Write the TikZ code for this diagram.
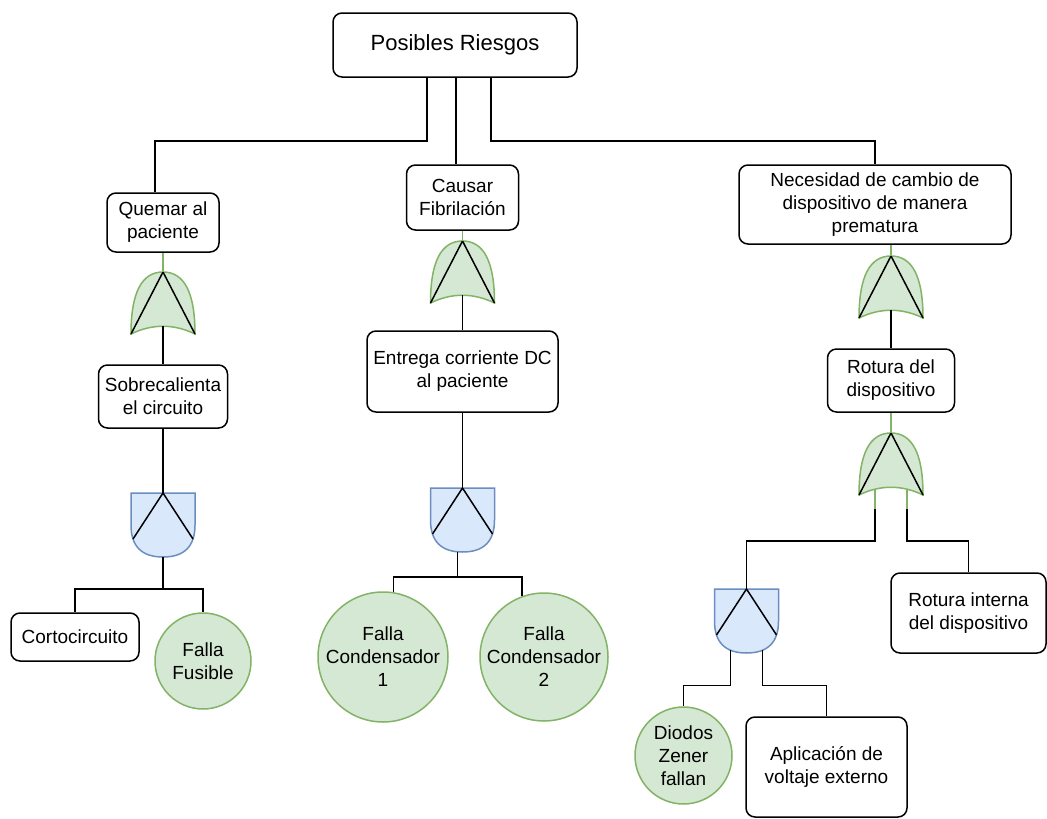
\documentclass[tikz,border=0pt]{standalone}
\usepackage{fontspec}
\setmainfont{Liberation Sans}
\definecolor{gfill}{HTML}{D5E8D4}
\definecolor{gline}{HTML}{82B366}
\definecolor{bfill}{HTML}{DAE8FC}
\definecolor{bline}{HTML}{6C8EBF}
\tikzset{
  wire/.style={draw=black, line width=1.5pt},
  gwire/.style={draw=gline, line width=1.5pt},
  evbox/.style={draw=black, line width=1.5pt, rounded corners=9pt, align=center,
    inner sep=0pt, font=\fontsize{19}{23}\selectfont},
  basic/.style={circle, draw=gline, fill=gfill, line width=1.5pt, align=center,
    inner sep=-8pt, font=\fontsize{19}{23}\selectfont},
  % OR gate, output tip at the origin, inputs below
  orgate/.pic={
    \path[fill=gfill, draw=gline, line width=1.5pt]
      (-32,62) .. controls (-32,20.67) and (-21.33,0) .. (0,0)
      .. controls (21.33,0) and (32,20.67) .. (32,62)
      .. controls (10.67,51.67) and (-10.67,51.67) .. (-32,62) -- cycle;
    \draw[wire] (-32,62) -- (0,0) -- (32,62);
    \coordinate (-tip) at (0,0);
    \coordinate (-out) at (0,54.25);
    \coordinate (-inl) at (-16,56.2);
    \coordinate (-inr) at (16,56.2);
  },
  % AND gate, flat side on top at the origin, rounded side below
  andgate/.pic={
    \path[fill=bfill, draw=bline, line width=1.5pt]
      (-32,0) -- (32,0) -- (32,32)
      .. controls (32,53.33) and (21.33,64) .. (0,64)
      .. controls (-21.33,64) and (-32,53.33) .. (-32,32) -- cycle;
    \draw[wire] (-30,46) -- (0,0) -- (30,46);
    \coordinate (-top) at (0,0);
    \coordinate (-bot) at (0,64);
    \coordinate (-inl) at (-16,61.25);
    \coordinate (-inr) at (16,61.25);
  }
}
\begin{document}
\begin{tikzpicture}[x=1pt,y=-1pt]
\useasboundingbox (0,0) rectangle (1047,819);

% events
\node[evbox, minimum width=244pt, minimum height=64pt, font=\fontsize{22}{26}\selectfont] (top) at (455,45) {Posibles Riesgos};
\node[evbox, minimum width=112pt, minimum height=59pt] (quemar) at (163,222.5) {Quemar al\\paciente};
\node[evbox, minimum width=112pt, minimum height=65pt] (causar) at (462.5,197.5) {Causar\\Fibrilación};
\node[evbox, minimum width=272pt, minimum height=79pt] (neces) at (875,204.5) {Necesidad de cambio de\\dispositivo de manera\\prematura};
\node[evbox, minimum width=129pt, minimum height=63pt] (sobre) at (163,396.5) {Sobrecalienta\\el circuito};
\node[evbox, minimum width=191pt, minimum height=81pt] (entrega) at (462.5,371.5) {Entrega corriente DC\\al paciente};
\node[evbox, minimum width=127pt, minimum height=63pt] (rotura) at (891,380.5) {Rotura del\\dispositivo};
\node[evbox, minimum width=128pt, minimum height=48pt] (corto) at (75,637) {Cortocircuito};
\node[evbox, minimum width=155pt, minimum height=80pt] (rint) at (968.5,613) {Rotura interna\\del dispositivo};
\node[evbox, minimum width=161pt, minimum height=100pt] (aplic) at (826.5,767) {Aplicación de\\voltaje externo};

% basic events
\node[basic, minimum size=96pt] (fus) at (203,661) {Falla\\Fusible};
\node[basic, minimum size=130pt] (cond1) at (383,657) {Falla\\Condensador\\1};
\node[basic, minimum size=128pt] (cond2) at (544,657) {Falla\\Condensador\\2};
\node[basic, minimum size=97pt] (zener) at (683.5,755.5) {Diodos\\Zener\\fallan};

% gates
\pic (g1) at (163,272) {orgate};
\pic (g2) at (462.5,241) {orgate};
\pic (g3) at (891,256) {orgate};
\pic (g4) at (891,433) {orgate};
\pic (a1) at (163,493) {andgate};
\pic (a2) at (462.5,488) {andgate};
\pic (a3) at (746.5,589) {andgate};

% connectors
\draw[wire] ([xshift=-28pt]top.south) -- ++(0,63) -| ([xshift=-8pt]quemar.north);
\draw[wire] ([xshift=1pt]top.south) -- ([xshift=1pt]top.south |- causar.north);
\draw[wire] ([xshift=36pt]top.south) -- ++(0,63) -| (neces.north);

\draw[gwire] (quemar.south) -- (g1-tip);
\draw[wire] (g1-out) -- (g1-out |- sobre.north);
\draw[wire] (sobre.south) -- (a1-top);
\draw[wire] (a1-bot) -- ++(0,32) -| (corto.north);
\draw[wire] (a1-bot) -- ++(0,32) -| (fus.north);

\draw[gwire] (causar.south) -- (g2-tip);
\draw[wire] (g2-out) -- (entrega.north);
\draw[wire] (entrega.south) -- (a2-top);
\draw[wire] ([xshift=-5pt]a2-bot) -- ++(0,25) -| (cond1.81);
\draw[wire] ([xshift=-5pt]a2-bot) -- ++(0,25) -| (cond2.110);

\draw[gwire] ([xshift=16pt]neces.south) -- (g3-tip);
\draw[wire] (g3-out) -- (g3-out |- rotura.north);
\draw[gwire] (rotura.south) -- (g4-tip);
\draw[gwire] (g4-inl) -- ++(0,20) coordinate (g4-l);
\draw[wire] (g4-l) -- ++(0,32) -| (a3-top);
\draw[gwire] (g4-inr) -- ++(0,20) coordinate (g4-r);
\draw[wire] (g4-r) -- ++(0,32) -| (rint.north);
\draw[wire] (a3-inl) -- ++(0,35) -| (zener.north);
\draw[wire] (a3-inr) -- ++(0,35) -| (aplic.north);
\end{tikzpicture}
\end{document}
